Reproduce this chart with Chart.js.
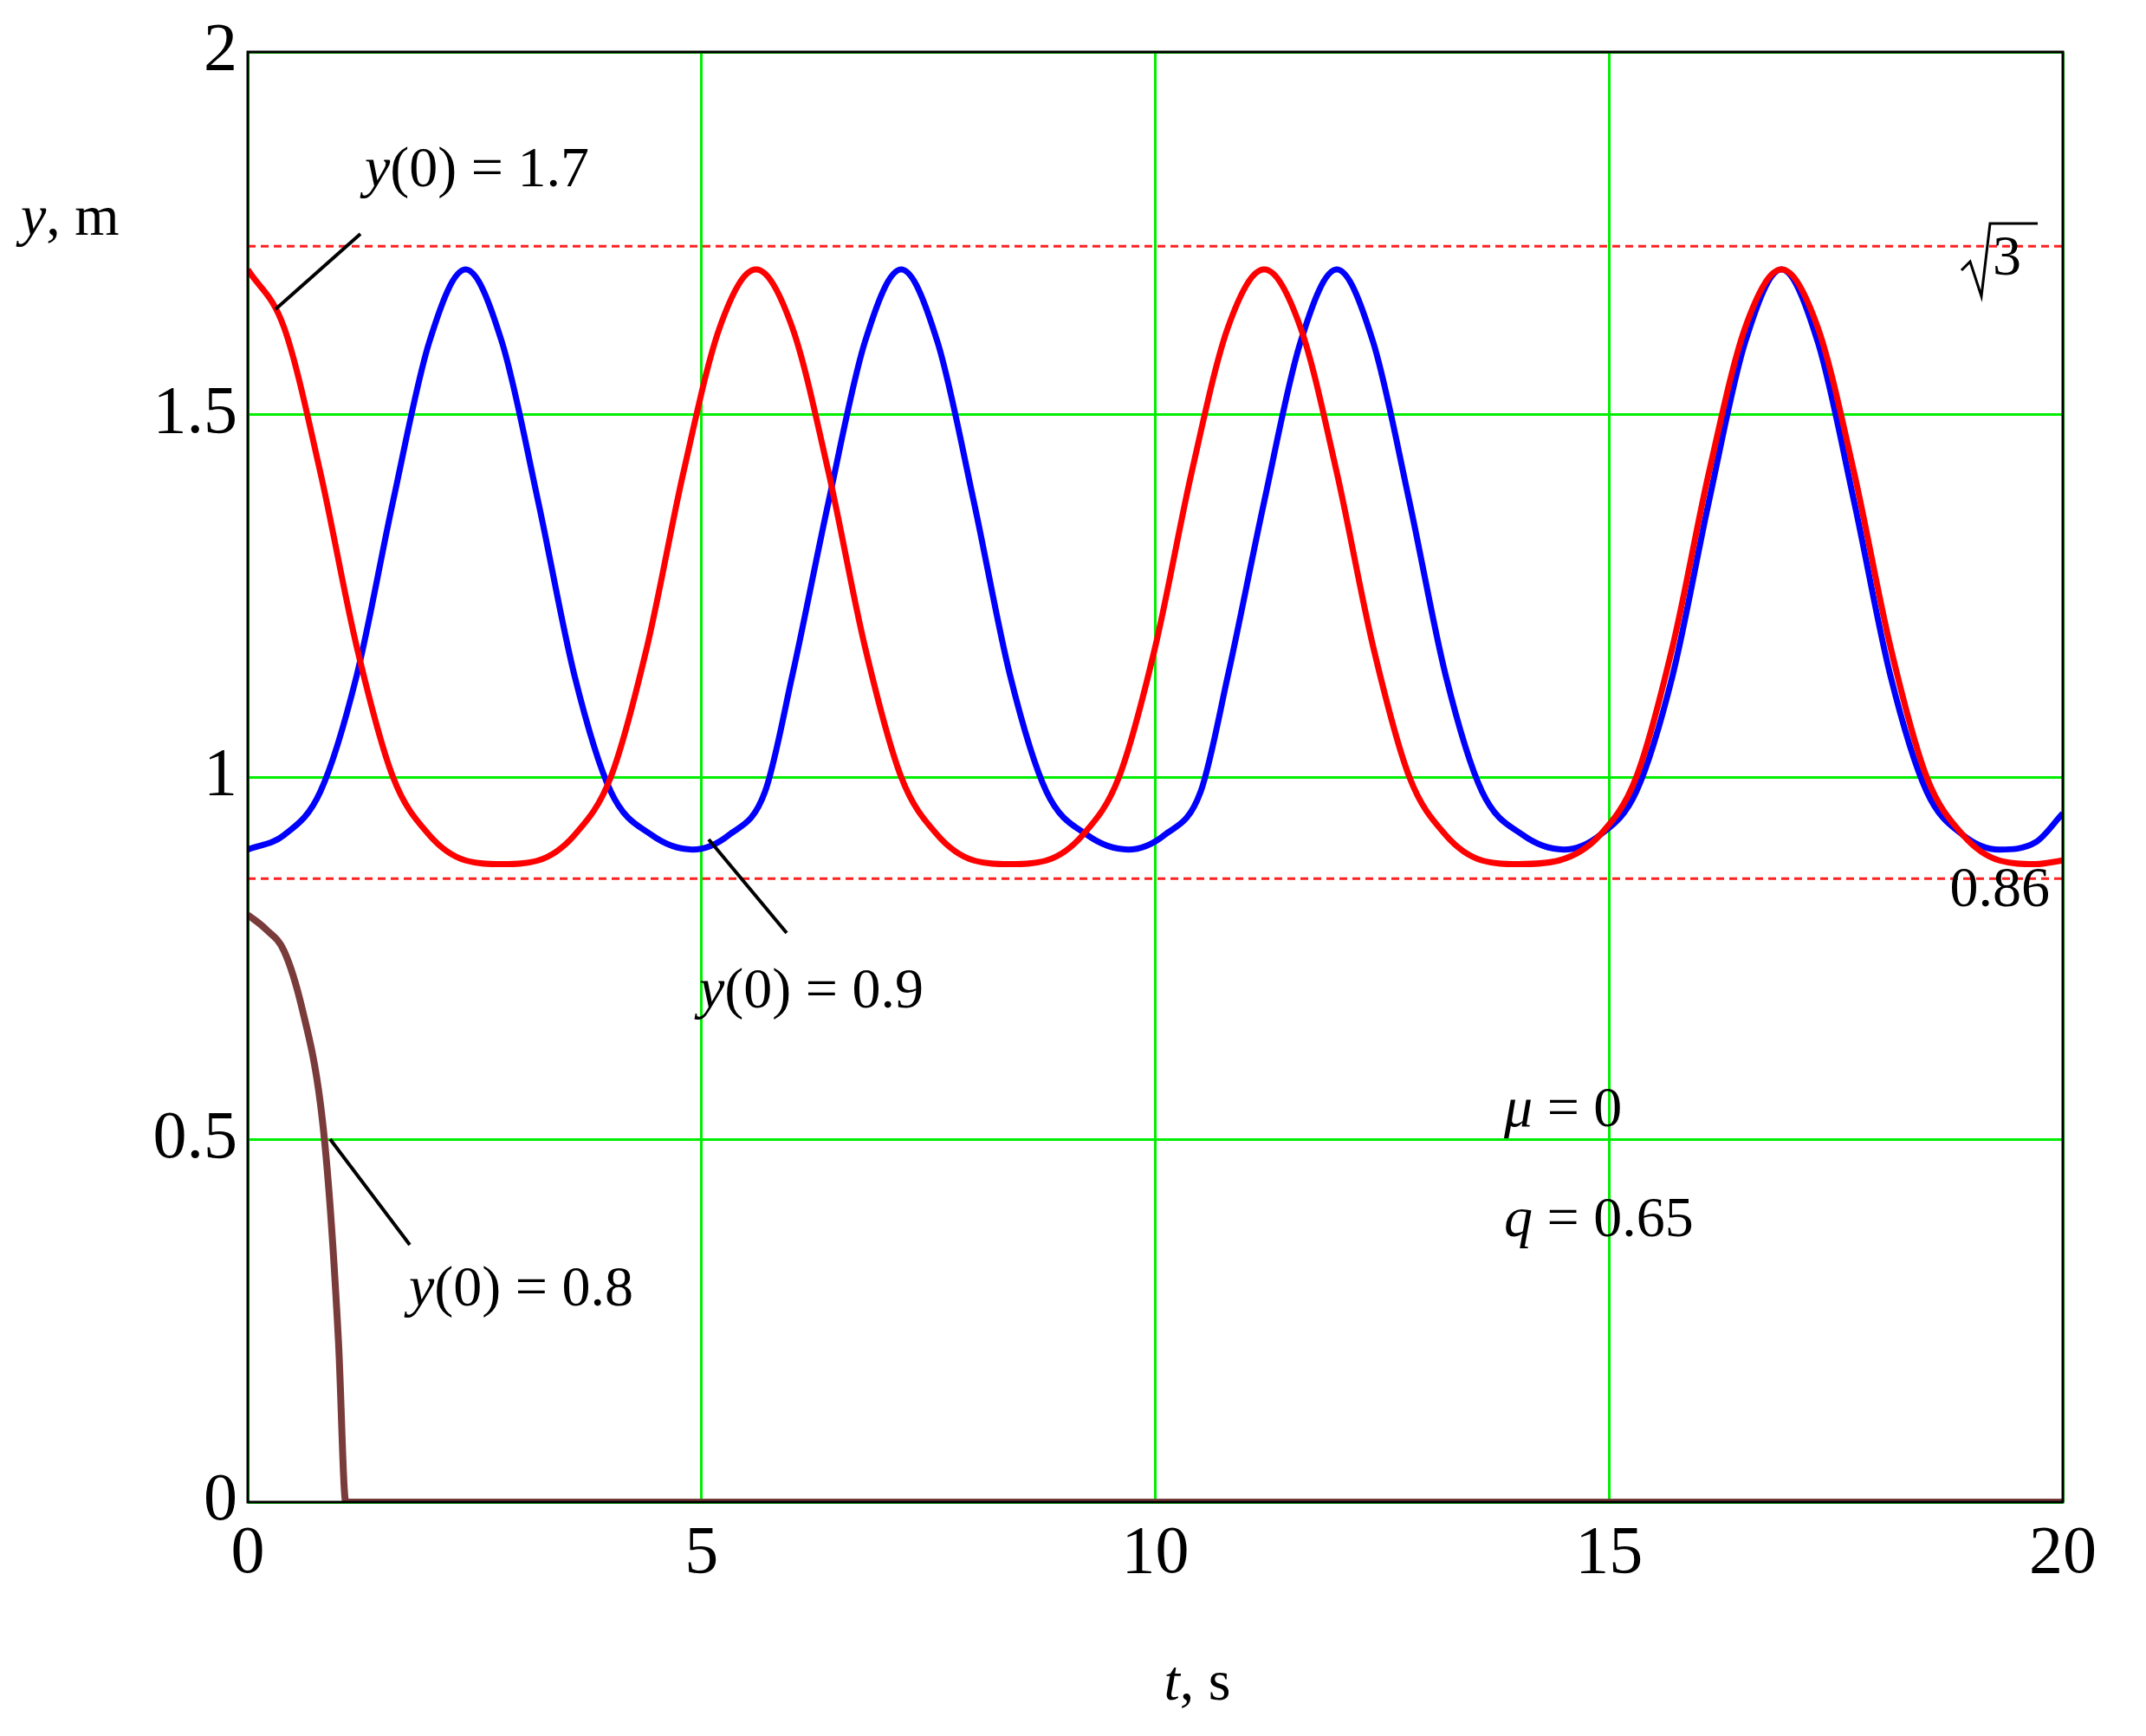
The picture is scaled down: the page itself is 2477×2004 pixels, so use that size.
<!DOCTYPE html>
<html><head><meta charset="utf-8">
<script src="https://cdn.jsdelivr.net/npm/chart.js@4"></script>
<style>html,body{margin:0;padding:0;background:#fff}#w{width:2477px;height:2004px}</style>
</head><body><div id="w"><canvas id="c"></canvas></div>
<script>
const redT=[0,0.4,0.8,1.2,1.6,2.0,2.4,2.8,3.2,3.6,4.0,4.4,4.8,5.2,5.6,6.0,6.4,6.8,7.2,7.6,8.0,8.4,8.8,9.2,9.6,10.0,10.4,10.8,11.2,11.6,12.0,12.4,12.8,13.2,13.6,14.0,14.45,14.9,15.3,15.7,16.1,16.5,16.9,17.3,17.7,18.1,18.5,18.9,19.3,19.7,20];
const redY=[1.70,1.62,1.42,1.18,1.00,0.92,0.885,0.88,0.885,0.92,1.00,1.18,1.42,1.62,1.70,1.62,1.42,1.18,1.00,0.92,0.885,0.88,0.885,0.92,1.00,1.18,1.42,1.62,1.70,1.62,1.42,1.18,1.00,0.92,0.885,0.88,0.885,0.92,1.00,1.18,1.42,1.62,1.70,1.62,1.42,1.18,1.00,0.92,0.885,0.88,0.885];
const blueT=[0,0.4,0.8,1.2,1.6,2.0,2.4,2.8,3.2,3.6,4.0,4.45,4.9,5.3,5.7,6.0,6.4,6.8,7.2,7.6,8.0,8.4,8.8,9.25,9.7,10.1,10.5,10.8,11.2,11.6,12.0,12.4,12.8,13.2,13.6,14.05,14.5,14.9,15.3,15.7,16.1,16.5,16.9,17.3,17.7,18.1,18.5,18.9,19.3,19.7,20];
const blueY=[0.90,0.92,0.98,1.14,1.38,1.60,1.70,1.60,1.38,1.14,0.98,0.92,0.90,0.92,0.98,1.14,1.38,1.60,1.70,1.60,1.38,1.14,0.98,0.92,0.90,0.92,0.98,1.14,1.38,1.60,1.70,1.60,1.38,1.14,0.98,0.92,0.90,0.92,0.98,1.14,1.38,1.60,1.70,1.60,1.38,1.14,0.98,0.92,0.90,0.91,0.95];
const brownT=[0,0.2,0.4,0.6,0.8,0.9,1.0,1.08,20];
const brownY=[0.81,0.79,0.76,0.68,0.55,0.42,0.22,0.0,0.0];
const upperBound=1.732, lowerBound=0.86;
const xTicks=[0,5,10,15,20], yTicks=[0,0.5,1,1.5,2];
const pts=(t,y)=>t.map((v,i)=>({x:v,y:y[i]}));
const SERIF='"Liberation Serif", "DejaVu Serif", serif';
const ann={id:'ann',afterDraw(ch){
 const c=ch.ctx,a=ch.chartArea;
 c.save();
 c.strokeStyle='#000';c.lineWidth=3;c.strokeRect(a.left,a.top,a.right-a.left,a.bottom-a.top);
 const seg=(x1,y1,x2,y2)=>{c.beginPath();c.moveTo(x1,y1);c.lineTo(x2,y2);c.stroke();};
 c.lineWidth=4;
 seg(416,270,318,357);seg(908,1077,818,969);seg(473,1437,381,1315);
 c.textBaseline='middle';c.fillStyle='#000';
 const F='66px '+SERIF;
 const mixed=(x,y,parts,align)=>{let w=0;parts.forEach(p=>{c.font=(p[1]?'italic ':'')+F;w+=c.measureText(p[0]).width;});
  let cx=align==='right'?x-w:align==='center'?x-w/2:x;
  parts.forEach(p=>{c.font=(p[1]?'italic ':'')+F;c.textAlign='left';c.fillText(p[0],cx,y);cx+=c.measureText(p[0]).width;});};
 mixed(24,254,[['y',1],[', m',0]]);
 mixed(421,198,[['y',1],['(0) = 1.7',0]]);
 mixed(807,1146,[['y',1],['(0) = 0.9',0]]);
 mixed(472,1490,[['y',1],['(0) = 0.8',0]]);
 mixed(1736,1283,[['μ',1],[' = 0',0]]);
 mixed(1736,1410,[['q',1],[' = 0.65',0]]);
 mixed(1382,1945,[['t',1],[', s',0]],'center');
 mixed(2366,1029,[['0.86',0]],'right');
 mixed(2300,300,[['3',0]]);
 c.lineWidth=3;c.beginPath();c.moveTo(2264,312);c.lineTo(2274,302);c.lineTo(2287,342);c.lineTo(2297,258);c.lineTo(2352,258);c.stroke();
 c.restore();}};
new Chart(document.getElementById('c'),{type:'line',
 data:{datasets:[
  {data:[{x:0,y:upperBound},{x:20,y:upperBound}],borderColor:'#ff2020',borderWidth:3,borderDash:[9,6],pointRadius:0},
  {data:[{x:0,y:lowerBound},{x:20,y:lowerBound}],borderColor:'#ff2020',borderWidth:3,borderDash:[9,6],pointRadius:0},
  {data:pts(brownT,brownY),borderColor:'#7a3b3b',borderWidth:8,pointRadius:0,cubicInterpolationMode:'monotone'},
  {data:pts(redT,redY),borderColor:'#ff0000',borderWidth:7,pointRadius:0,cubicInterpolationMode:'monotone'},
  {data:pts(blueT,blueY),borderColor:'#0000ff',borderWidth:7,pointRadius:0,cubicInterpolationMode:'monotone'}
 ]},
 options:{responsive:true,maintainAspectRatio:false,animation:false,
  layout:{padding:{left:0,right:96,top:60,bottom:0}},
  plugins:{legend:{display:false},tooltip:{enabled:false}},
  scales:{
   x:{type:'linear',min:0,max:20,afterBuildTicks:s=>{s.ticks=xTicks.map(v=>({value:v}));},
      afterFit:s=>{s.height=2004-1734+0;},
      grid:{color:'#00ee00',lineWidth:3,drawTicks:false},border:{display:false},
      ticks:{color:'#000',font:{family:SERIF,size:78},padding:14,maxRotation:0,callback:v=>String(v)}},
   y:{min:0,max:2,afterBuildTicks:s=>{s.ticks=yTicks.map(v=>({value:v}));},
      afterFit:s=>{s.width=286;},
      grid:{color:'#00ee00',lineWidth:3,drawTicks:false},border:{display:false},
      ticks:{color:'#000',font:{family:SERIF,size:78},padding:12,callback:v=>String(v)}}
  }}, plugins:[ann]});
</script></body></html>
